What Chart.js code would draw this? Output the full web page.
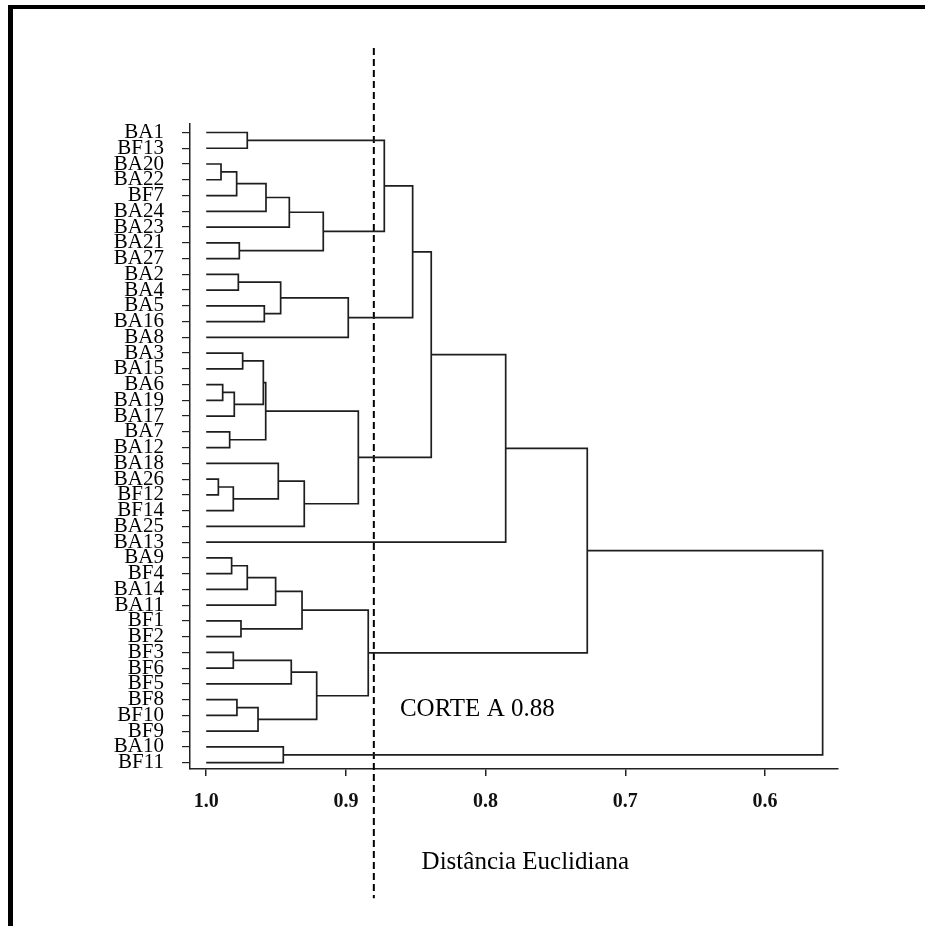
<!DOCTYPE html>
<html>
<head>
<meta charset="utf-8">
<script src="https://cdn.jsdelivr.net/npm/chart.js@4.4.0/dist/chart.umd.min.js"></script>
<style>
  html, body { margin: 0; padding: 0; background: #fff; }
  #wrap { position: relative; width: 925px; height: 926px; overflow: hidden; }
  #frame { position: absolute; left: 8px; top: 5px; right: 0; bottom: 0; border-left: 5px solid #000; border-top: 4px solid #000; pointer-events: none; }
  canvas { position: absolute; left: 0; top: 0; }
</style>
</head>
<body>
<div id="wrap">
  <canvas id="dendro" width="925" height="926"></canvas>
  <div id="frame"></div>
</div>
<script>
// folhas do dendrograma, de cima para baixo
const leaves = ['BA1', 'BF13', 'BA20', 'BA22', 'BF7', 'BA24', 'BA23', 'BA21', 'BA27',
  'BA2', 'BA4', 'BA5', 'BA16', 'BA8', 'BA3', 'BA15', 'BA6', 'BA19', 'BA17', 'BA7',
  'BA12', 'BA18', 'BA26', 'BF12', 'BF14', 'BA25', 'BA13', 'BA9', 'BF4', 'BA14',
  'BA11', 'BF1', 'BF2', 'BF3', 'BF6', 'BF5', 'BF8', 'BF10', 'BF9', 'BA10', 'BF11'];

// fusoes: [filho A, filho B, altura]; texto = folha, numero = fusao anterior
const merges = [
  ['BA1', 'BF13', 0.9706],   // 0
  ['BA20', 'BA22', 0.9894],  // 1
  [1, 'BF7', 0.9782],        // 2
  [2, 'BA24', 0.9572],       // 3
  [3, 'BA23', 0.9405],       // 4
  ['BA21', 'BA27', 0.9763],  // 5
  [4, 5, 0.9162],            // 6
  [0, 6, 0.8725],            // 7
  ['BA2', 'BA4', 0.9770],    // 8
  ['BA5', 'BA16', 0.9584],   // 9
  [8, 9, 0.9467],            // 10
  [10, 'BA8', 0.8983],       // 11
  [7, 11, 0.8522],           // 12
  ['BA3', 'BA15', 0.9739],   // 13
  ['BA6', 'BA19', 0.9882],   // 14
  [14, 'BA17', 0.9799],      // 15
  [13, 15, 0.9591],          // 16
  ['BA7', 'BA12', 0.9832],   // 17
  [16, 17, 0.9574],          // 18
  ['BA26', 'BF12', 0.9913],  // 19
  [19, 'BF14', 0.9806],      // 20
  ['BA18', 20, 0.9484],      // 21
  [21, 'BA25', 0.9298],      // 22
  [18, 22, 0.8911],          // 23
  [12, 23, 0.8389],          // 24
  [24, 'BA13', 0.7856],      // 25
  ['BA9', 'BF4', 0.9818],    // 26
  [26, 'BA14', 0.9706],      // 27
  [27, 'BA11', 0.9503],      // 28
  ['BF1', 'BF2', 0.9751],    // 29
  [28, 29, 0.9314],          // 30
  ['BF3', 'BF6', 0.9806],    // 31
  [31, 'BF5', 0.9391],       // 32
  ['BF8', 'BF10', 0.9780],   // 33
  [33, 'BF9', 0.9629],       // 34
  [32, 34, 0.9209],          // 35
  [30, 35, 0.8840],          // 36
  [25, 36, 0.7272],          // 37
  ['BA10', 'BF11', 0.9448],  // 38
  [37, 38, 0.5587]           // 39
];

const xTicks = [1.0, 0.9, 0.8, 0.7, 0.6];
const cutValue = 0.88;
const cutLabel = 'CORTE A 0.88';
const axisTitle = 'Distância Euclidiana';

// posicao (y) e altura (x) de cada no
const nodeY = [];
const nodeH = [];
function childPos(c) {
  if (typeof c === 'string') return { y: leaves.indexOf(c), h: 1.0 };
  return { y: nodeY[c], h: nodeH[c] };
}

const datasets = [];
merges.forEach(function(m, i) {
  const a = childPos(m[0]);
  const b = childPos(m[1]);
  nodeY[i] = (a.y + b.y) / 2;
  nodeH[i] = m[2];
  datasets.push({
    data: [{ x: a.h, y: a.y }, { x: m[2], y: a.y }, { x: m[2], y: b.y }, { x: b.h, y: b.y }],
    showLine: true,
    borderColor: '#1e1e1e',
    borderWidth: 1.7,
    pointRadius: 0
  });
});

// linha de corte tracejada
datasets.push({
  data: [{ x: cutValue, y: -5.36 }, { x: cutValue, y: 48.6 }],
  showLine: true,
  borderColor: '#000',
  borderWidth: 2,
  borderDash: [7, 4],
  pointRadius: 0,
  clip: false
});

// textos dentro do grafico
const textPlugin = {
  id: 'textos',
  afterDraw(chart) {
    const ctx = chart.ctx;
    const xs = chart.scales.x;
    const ys = chart.scales.y;
    ctx.save();
    ctx.fillStyle = '#000';
    ctx.font = "25px 'Liberation Serif'";
    ctx.textBaseline = 'middle';
    ctx.textAlign = 'left';
    ctx.fillText(cutLabel, xs.getPixelForValue(0.8613), ys.getPixelForValue(36.65));
    ctx.textAlign = 'center';
    ctx.fillText(axisTitle, xs.getPixelForValue(0.7715), chart.chartArea.bottom + 93);
    ctx.restore();
  }
};

const ctx = document.getElementById('dendro').getContext('2d');
new Chart(ctx, {
  type: 'scatter',
  data: { datasets: datasets },
  options: {
    responsive: false,
    animation: false,
    layout: { padding: { top: 124, right: 87, bottom: 0, left: 0 } },
    plugins: { legend: { display: false }, tooltip: { enabled: false } },
    scales: {
      x: {
        type: 'linear',
        reverse: true,
        min: 0.5477,
        max: 1.0116,
        afterBuildTicks: function(s) { s.ticks = xTicks.map(v => ({ value: v })); },
        afterFit: function(s) { s.height = 157; },
        border: { display: true, color: '#222', width: 1.5 },
        grid: { drawOnChartArea: false, drawTicks: true, tickLength: 7, color: '#222', lineWidth: 1.5 },
        ticks: {
          padding: 14,
          color: '#111',
          font: { family: "'Liberation Serif'", size: 20, weight: 'bold' },
          callback: v => v.toFixed(1)
        }
      },
      y: {
        type: 'linear',
        reverse: true,
        min: -0.54,
        max: 40.4,
        afterBuildTicks: function(s) { s.ticks = leaves.map((_, i) => ({ value: i })); },
        afterFit: function(s) { s.width = 190; },
        border: { display: true, color: '#222', width: 1.5 },
        grid: { drawOnChartArea: false, drawTicks: true, tickLength: 8, color: '#222', lineWidth: 1.2 },
        ticks: {
          autoSkip: false,
          padding: 18,
          color: '#000',
          font: { family: "'Liberation Serif'", size: 21 },
          callback: v => leaves[v]
        }
      }
    }
  },
  plugins: [textPlugin]
});
</script>
</body>
</html>
